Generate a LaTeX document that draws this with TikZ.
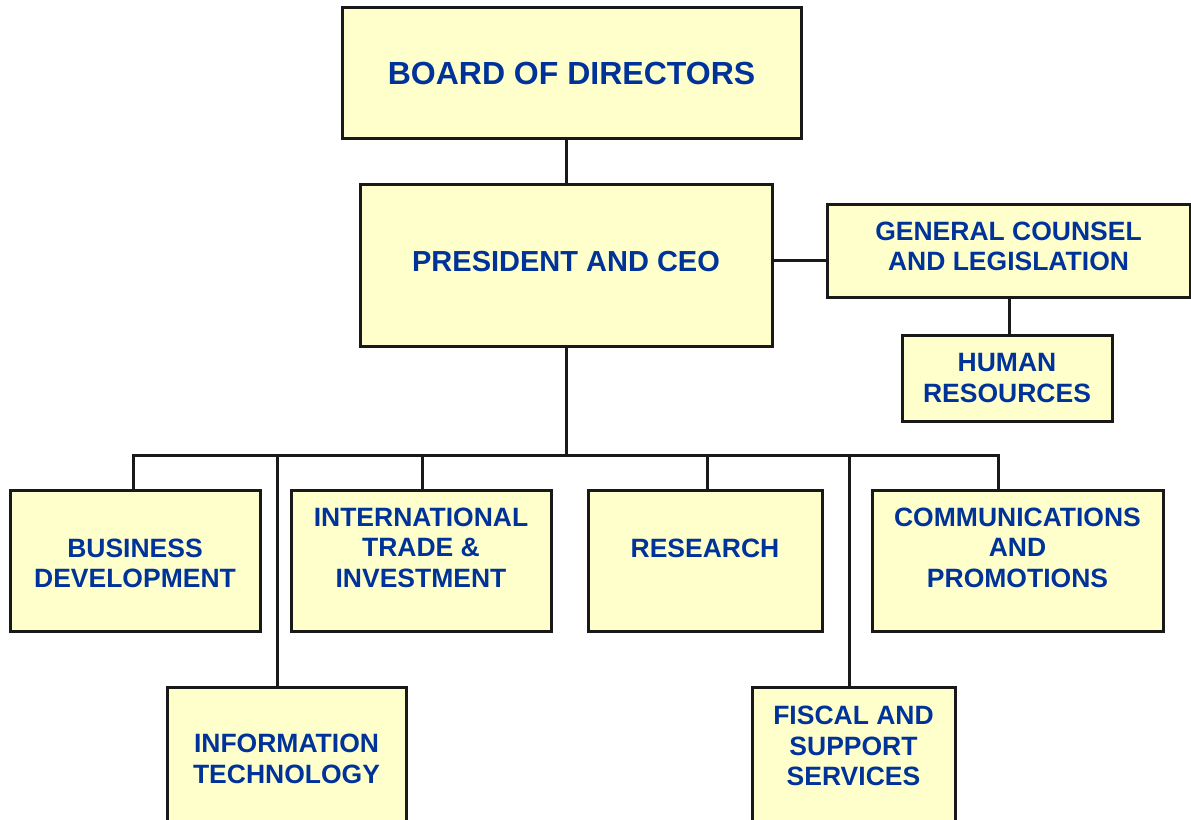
\documentclass[tikz,border=0pt]{standalone}
\usepackage{fontspec}
\setmainfont{Liberation Sans}
\usepackage{tikz}
\usetikzlibrary{calc,positioning}
\definecolor{boxfill}{HTML}{FFFFCC}
\definecolor{boxtext}{HTML}{003399}

\begin{document}
\begin{tikzpicture}[x=1pt,y=-1pt,
	unit/.style={draw=black!90,line width=3pt,fill=boxfill,inner sep=0pt},
	caption/.style={text=boxtext,align=center,inner sep=0pt,
		font=\fontsize{26.5}{30.5}\selectfont\bfseries},
	link/.style={line width=3pt,draw=black!90}]
	\useasboundingbox (0,0) rectangle (1191,819);
	% top of the chart
	\node[unit,minimum width=459,minimum height=131] (board) at (571.5,72.5) {};
	\node[caption,font=\fontsize{32}{36}\selectfont\bfseries] (boardtxt) at ([yshift=-1]board.center) {BOARD OF DIRECTORS};
	\node[unit,minimum width=412,minimum height=162] (pres) at (566,265) {};
	\node[caption,font=\fontsize{29}{33}\selectfont\bfseries] (prestxt) at ([yshift=3]pres.center) {PRESIDENT AND CEO};
	\node[unit,minimum width=363,minimum height=93] (gc) at (1008.5,250.5) {};
	\node[caption] (gctxt) at ([yshift=4]gc.center) {GENERAL COUNSEL\\AND LEGISLATION};
	\node[unit,minimum width=210,minimum height=86] (hr) at (1007,378) {};
	\node[caption] (hrtxt) at (hr.center) {HUMAN\\RESOURCES};
	% divisions
	\node[unit,minimum width=250,minimum height=141] (bd) at (135,560.5) {};
	\node[caption] (bdtxt) at ([yshift=-3]bd.center) {BUSINESS\\DEVELOPMENT};
	\node[unit,minimum width=260,minimum height=141] (trade) at (421,560.5) {};
	\node[caption] (tradetxt) at ([yshift=13]trade.center) {INTERNATIONAL\\TRADE \&\\INVESTMENT};
	\node[unit,minimum width=234,minimum height=141] (res) at (705,560.5) {};
	\node[caption] (restxt) at ([yshift=12]res.center) {RESEARCH};
	\node[unit,minimum width=291,minimum height=141] (comm) at (1017.5,560.5) {};
	\node[caption] (commtxt) at ([yshift=13]comm.center) {COMMUNICATIONS\\AND\\PROMOTIONS};
	\node[unit,minimum width=239,minimum height=142] (it) at (286.5,758) {};
	\node[caption] (ittxt) at ([yshift=-1]it.center) {INFORMATION\\TECHNOLOGY};
	\node[unit,minimum width=203,minimum height=142] (fiscal) at (853.5,758) {};
	\node[caption] (fiscaltxt) at ([yshift=12]fiscal.center) {FISCAL AND\\SUPPORT\\SERVICES};
	% lines
	\coordinate (hub) at (566,455);
	\draw[link] (pres.north) -- (pres.north |- board.south);
	\draw[link] ([yshift=5]pres.east) -- ([yshift=5]pres.east -| gc.west);
	\draw[link] ([xshift=2]hr.north) -- ([xshift=2]hr.north |- gc.south);
	\draw[link] (pres.south) -- (hub);
	\draw[link] (hub) -| ([xshift=-2]bd.north);
	\draw[link] (hub) -| ([xshift=-9.5]it.north);
	\draw[link] (hub) -| ([xshift=1]trade.north);
	\draw[link] (hub) -| ([xshift=2]res.north);
	\draw[link] (hub) -| ([xshift=-4.5]fiscal.north);
	\draw[link] (hub) -| ([xshift=-19.5]comm.north);
\end{tikzpicture}
\end{document}
